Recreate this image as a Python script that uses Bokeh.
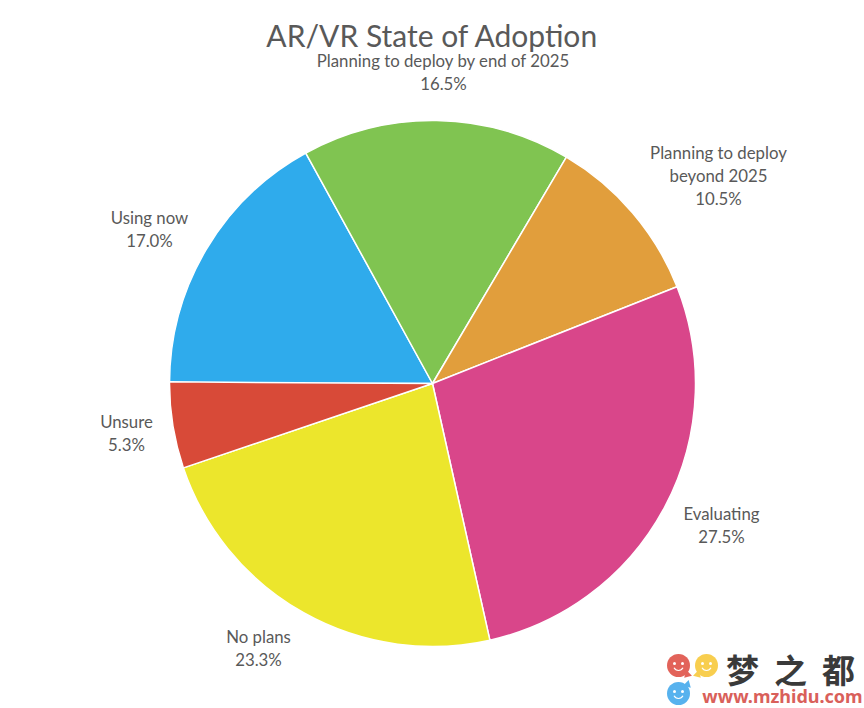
from math import pi
from bokeh.plotting import figure
from bokeh.models import Range1d
from bokeh.core.properties import value
from bokeh.embed import file_html
from bokeh.resources import INLINE

# --- data ---
categories = ["Using now", "Planning to deploy by end of 2025", "Planning to deploy beyond 2025",
              "Evaluating", "No plans", "Unsure"]
shares = [17.0, 16.5, 10.5, 27.5, 23.3, 5.3]
colors = ["#2FABEC", "#80C451", "#E19E3C", "#D9468A", "#ECE62C", "#D84A38"]
label_lines = [["Using now", "17.0%"],
               ["Planning to deploy by end of 2025", "16.5%"],
               ["Planning to deploy", "beyond 2025", "10.5%"],
               ["Evaluating", "27.5%"],
               ["No plans", "23.3%"],
               ["Unsure", "5.3%"]]

# --- layout (pixels from the pie centre; y up) ---
W, H = 864, 708
CX, CY = 432, 383          # pie centre inside the figure
R = 263
label_anchor = [(-283, 166), (11, 323), (286, 231), (289, -130), (-174, -253), (-306, -38)]
LINE = 23
TITLE_H = 52

FONT = "Lato"
TEXT = "#595959"

def px(x, y):
    return x - CX, CY - y

p = figure(width=W, height=H, output_backend="svg", toolbar_location=None,
           x_range=Range1d(-CX, W - CX), y_range=Range1d(-(H - CY), CY - TITLE_H),
           title="AR/VR State of Adoption", min_border=0, min_border_top=TITLE_H,
           min_border_left=0, min_border_right=0, min_border_bottom=0)
p.title.align = "center"
p.title.text_font = FONT
p.title.text_font_style = "normal"
p.title.text_font_size = "30px"
p.title.text_color = TEXT
p.title.standoff = 0
p.axis.visible = False
p.grid.visible = False
p.outline_line_color = None

# wedges run clockwise from 9 o'clock
start = pi
for name, share, col in zip(categories, shares, colors):
    end = start - share / 100 * 2 * pi
    p.wedge(x=[0], y=[0], radius=R, start_angle=end, end_angle=start, fill_color=col,
            line_color="white", line_width=1.5)
    start = end

for lines, (ax, ay) in zip(label_lines, label_anchor):
    for i, t in enumerate(lines):
        p.text(x=[ax], y=[ay - i * LINE], text=[t], text_align="center", text_baseline="middle",
               text_font=value(FONT), text_font_size="16.8px", text_color=TEXT)

# --- watermark ---
logo_dots = [(678, 665, "#E2635A", (687, 674), -0.8), (706, 665, "#F8CE4F", (697, 674), 0.8),
             (678, 693, "#57B2EE", (687, 684), 0.8)]
for x, y, c, tail, ang in logo_dots:
    cx, cy = px(x, y)
    tx, ty = px(*tail)
    p.scatter(x=[tx], y=[ty], size=8, marker="triangle", angle=ang + pi, fill_color=c, line_color=None)
    p.scatter(x=[cx], y=[cy], size=23, marker="circle", fill_color=c, line_color=None)
    p.scatter(x=[cx - 4, cx + 4], y=[cy + 2, cy + 2], size=3, marker="circle",
              fill_color="white", line_color=None)
    p.arc(x=[cx], y=[cy], radius=5, start_angle=pi * 1.15, end_angle=pi * 1.85,
          line_color="white", line_width=1.2)
for ch, x in zip("梦之都", [742, 790, 838]):
    cx, cy = px(x, 668)
    p.text(x=[cx], y=[cy], text=[ch], text_align="center", text_baseline="middle",
           text_font=value("Noto Sans CJK SC"), text_font_size="33px", text_font_style="bold",
           text_color="#3a3a3a")
cx, cy = px(782, 695)
p.text(x=[cx], y=[cy], text=["www.mzhidu.com"], text_align="center",
       text_baseline="middle", text_font=value("Noto Sans"), text_font_size="18px",
       text_font_style="bold", text_color="#D9605A")

open("out.html", "w").write(file_html(p, INLINE))
